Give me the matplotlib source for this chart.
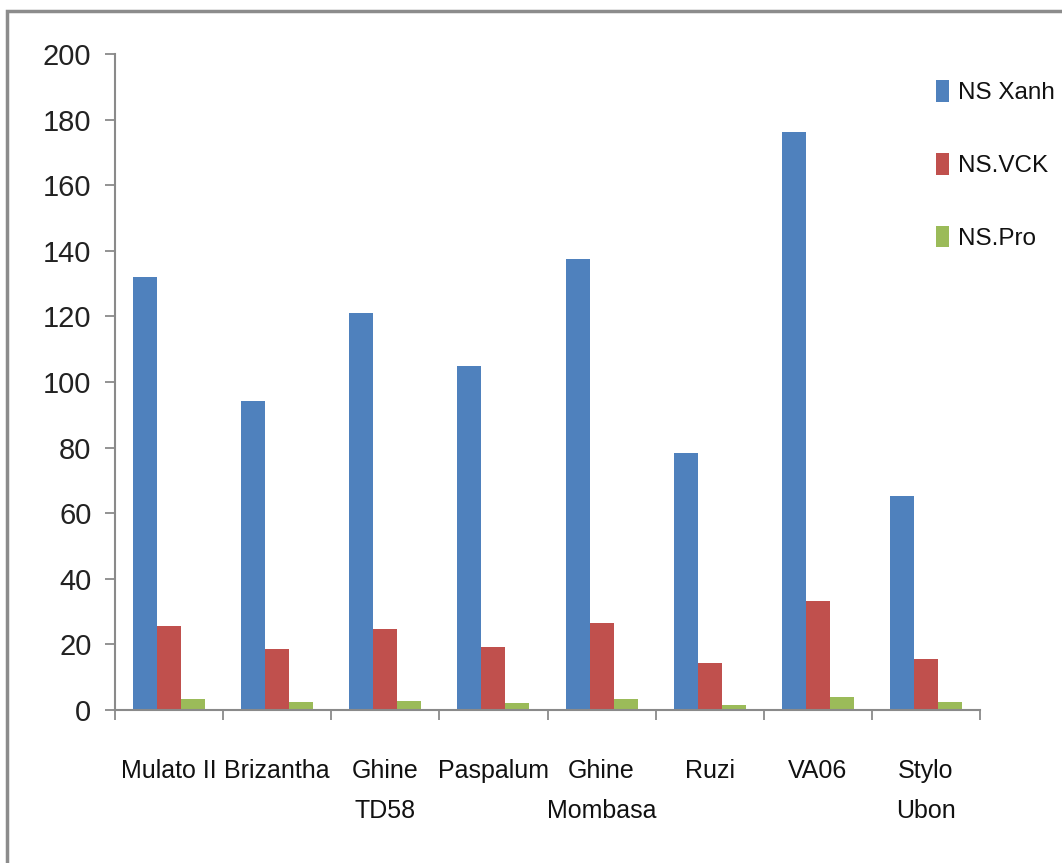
import matplotlib
matplotlib.use("Agg")
import matplotlib.pyplot as plt
from matplotlib.patches import Rectangle
import numpy as np

# Forage grass varieties and yields
categories = ["Mulato II", "Brizantha", "Ghine\nTD58", "Paspalum",
              "Ghine\nMombasa", "Ruzi", "VA06", "Stylo\nUbon"]
series_names = ["NS Xanh", "NS.VCK", "NS.Pro"]
ns_xanh = [132.0, 94.3, 121.0, 105.0, 137.5, 78.3, 176.2, 65.3]
ns_vck = [25.5, 18.6, 24.7, 19.2, 26.5, 14.3, 33.2, 15.5]
ns_pro = [3.3, 2.3, 2.7, 2.1, 3.3, 1.5, 4.0, 2.5]
y_ticks = [0, 20, 40, 60, 80, 100, 120, 140, 160, 180, 200]

colors = ["#4F81BD", "#C0504D", "#9BBB59"]
label_font = ["Liberation Sans", "DejaVu Sans"]

W, H = 1062, 863
fig = plt.figure(figsize=(W / 100, H / 100), dpi=100)
fig.patch.set_facecolor("white")

# Outer frame of the chart area
frame = Rectangle((7 / W, -0.05), 1.1, 1 - 11 / H + 0.05, transform=fig.transFigure,
                  fill=False, edgecolor="#8c8c8c", linewidth=2.5, clip_on=False)
fig.add_artist(frame)

ax = fig.add_axes([115 / W, 153 / H, 865 / W, 656 / H])

x = np.arange(len(categories))
bw = 1 / 4.5
for j, (vals, name) in enumerate(zip([ns_xanh, ns_vck, ns_pro], series_names)):
    ax.bar(x + (j - 1) * bw, vals, width=bw, color=colors[j], label=name,
           edgecolor="none", zorder=2)

ax.set_xlim(-0.5, len(categories) - 0.5)
ax.set_ylim(0, 200)
ax.set_yticks(y_ticks)
ax.set_yticklabels([str(t) for t in y_ticks], fontsize=21, color="#222222",
                   family=label_font)

ax.set_xticks(np.arange(-0.5, len(categories), 1.0))
ax.set_xticklabels([])
ax.set_xticks(x, minor=True)
ax.set_xticklabels(categories, minor=True, fontsize=18, family=label_font,
                   color="#111111", linespacing=1.85)
ax.tick_params(axis="x", which="minor", length=0, pad=35)
ax.tick_params(axis="x", which="major", length=7, width=1.3, color="#8a8a8a",
               direction="out")
ax.tick_params(axis="y", length=7, width=1.3, color="#8a8a8a", direction="out",
               pad=10)

for s in ["top", "right"]:
    ax.spines[s].set_visible(False)
for s in ["left", "bottom"]:
    ax.spines[s].set_color("#8a8a8a")
    ax.spines[s].set_linewidth(1.5)

leg = ax.legend(loc="upper left", bbox_to_anchor=(936 / W, 1 - 80 / H),
                bbox_transform=fig.transFigure, frameon=False,
                prop={"family": label_font, "size": 17.5},
                handlelength=0.55, handleheight=1.0, handletextpad=0.35,
                labelspacing=2.0, borderaxespad=0, borderpad=0)
for t in leg.get_texts():
    t.set_color("#111111")

fig.savefig("out.png", dpi=100, facecolor="white")
